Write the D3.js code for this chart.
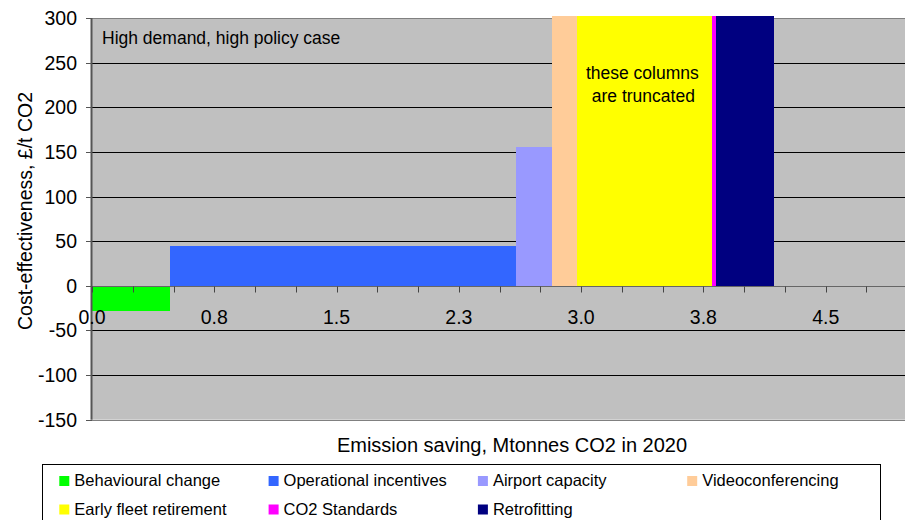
<!DOCTYPE html>
<html>
<head>
<meta charset="utf-8">
<script src="https://cdn.jsdelivr.net/npm/d3@7"></script>
<style>
  html, body { margin: 0; padding: 0; background: #fff; }
  svg { display: block; font-family: "Liberation Sans", Arial, sans-serif; }
</style>
</head>
<body>
<svg id="chart" width="905" height="520"></svg>
<script>
// Abatement measures, in order along the cumulative saving axis
const measures = ["Behavioural change", "Operational incentives", "Airport capacity",
  "Videoconferencing", "Early fleet retirement", "CO2 Standards", "Retrofitting"];
// Emission saving of each measure, Mt CO2 in 2020 (column widths)
const savings = [0.48, 2.12, 0.22, 0.155, 0.825, 0.025, 0.355];
// Cost-effectiveness, £/t CO2 (column heights); null = beyond the scale, drawn truncated
const costs = [-28, 45, 155, null, null, null, null];
const colors = ["#00FF00", "#3366FF", "#9999FF", "#FFCC99", "#FFFF00", "#FF00FF", "#000080"];

const yTicks = [-150, -100, -50, 0, 50, 100, 150, 200, 250, 300];
const xTickValues = [0, 0.75, 1.5, 2.25, 3.0, 3.75, 4.5];
const xTickLabels = ["0.0", "0.8", "1.5", "2.3", "3.0", "3.8", "4.5"];
const truncatedIndex = 4; // note sits on the early fleet retirement column

const svg = d3.select("#chart");
const plot = { left: 92, top: 18, bottom: 419.7, right: 948 };
const yCap = 302; // truncated columns stop just above the top of the scale

const x = d3.scaleLinear().domain([0, 5.25]).range([plot.left, plot.right]);
const y = d3.scaleLinear().domain([-150, 300]).range([plot.bottom, plot.top]);
const crisp = v => Math.round(v) + 0.5;

// plot background
svg.append("rect")
  .attr("x", plot.left).attr("y", plot.top)
  .attr("width", plot.right - plot.left).attr("height", plot.bottom - plot.top)
  .attr("fill", "#C0C0C0");

// horizontal gridlines
svg.append("g").selectAll("line")
  .data(yTicks.filter(v => v !== 0 && v !== 300 && v !== -150))
  .join("line")
  .attr("x1", plot.left).attr("x2", plot.right)
  .attr("y1", d => crisp(y(d))).attr("y2", d => crisp(y(d)))
  .attr("stroke", "#000").attr("stroke-width", 1);

// plot border top/bottom
[300, -150].forEach(v => {
  svg.append("line")
    .attr("x1", plot.left).attr("x2", plot.right)
    .attr("y1", crisp(y(v))).attr("y2", crisp(y(v)))
    .attr("stroke", "#808080").attr("stroke-width", 1);
});

// variable-width columns
const cum = d3.cumsum(savings);
const bars = measures.map((m, i) => ({
  name: m,
  x0: i === 0 ? 0 : cum[i - 1],
  x1: cum[i],
  cost: costs[i] === null ? yCap : costs[i],
  color: colors[i]
}));

svg.append("g").selectAll("rect")
  .data(bars)
  .join("rect")
  .attr("x", d => x(d.x0))
  .attr("width", d => x(d.x1) - x(d.x0))
  .attr("y", d => y(Math.max(0, d.cost)))
  .attr("height", d => Math.abs(y(d.cost) - y(0)))
  .attr("fill", d => d.color)
  .attr("shape-rendering", "crispEdges");

// y axis
const yAxis = svg.append("g");
yAxis.append("line")
  .attr("x1", crisp(plot.left) - 1).attr("x2", crisp(plot.left) - 1)
  .attr("y1", plot.top).attr("y2", plot.bottom)
  .attr("stroke", "#555").attr("stroke-width", 2);
yAxis.selectAll("line.tick")
  .data(yTicks)
  .join("line")
  .attr("class", "tick")
  .attr("x1", plot.left - 6).attr("x2", plot.left)
  .attr("y1", d => crisp(y(d))).attr("y2", d => crisp(y(d)))
  .attr("stroke", "#555");
yAxis.selectAll("text")
  .data(yTicks)
  .join("text")
  .attr("x", 77).attr("y", d => y(d))
  .attr("dy", "0.36em")
  .attr("text-anchor", "end")
  .attr("font-size", "19.5px")
  .attr("fill", "#000")
  .text(d => d);

// x axis along zero
const xAxis = svg.append("g");
xAxis.append("line")
  .attr("x1", plot.left).attr("x2", plot.right)
  .attr("y1", crisp(y(0))).attr("y2", crisp(y(0)))
  .attr("stroke", "#666").attr("stroke-width", 1);
xAxis.selectAll("line.tick")
  .data(d3.range(0, 22).map(i => i * 0.25))
  .join("line")
  .attr("class", "tick")
  .attr("x1", d => crisp(x(d))).attr("x2", d => crisp(x(d)))
  .attr("y1", crisp(y(0))).attr("y2", crisp(y(0)) + 6)
  .attr("stroke", "#444");
xAxis.selectAll("text")
  .data(xTickValues)
  .join("text")
  .attr("x", d => x(d))
  .attr("y", 323.5)
  .attr("text-anchor", "middle")
  .attr("font-size", "19.5px")
  .attr("fill", "#000")
  .text((d, i) => xTickLabels[i]);

// annotations
svg.append("text")
  .attr("x", 102).attr("y", 43.5)
  .attr("font-size", "17.5px").attr("fill", "#000")
  .text("High demand, high policy case");

const noteX = (x(bars[truncatedIndex].x0) + x(bars[truncatedIndex].x1)) / 2 - 2;
const note = svg.append("text")
  .attr("text-anchor", "middle")
  .attr("font-size", "17.5px").attr("fill", "#000");
note.append("tspan").attr("x", noteX).attr("y", 79).text("these columns");
note.append("tspan").attr("x", noteX + 1).attr("y", 101.5).text("are truncated");

// axis titles
svg.append("text")
  .attr("transform", "translate(32,211) rotate(-90)")
  .attr("text-anchor", "middle")
  .attr("font-size", "19.5px").attr("fill", "#000")
  .text("Cost-effectiveness, £/t CO2");

svg.append("text")
  .attr("x", 512).attr("y", 452)
  .attr("text-anchor", "middle")
  .attr("font-size", "20px").attr("fill", "#000")
  .text("Emission saving, Mtonnes CO2 in 2020");

// legend
const legend = svg.append("g");
legend.append("rect")
  .attr("x", 42.5).attr("y", 464.5)
  .attr("width", 838).attr("height", 80)
  .attr("fill", "#fff").attr("stroke", "#000").attr("stroke-width", 1);

const item = legend.selectAll("g.item")
  .data(measures)
  .join("g")
  .attr("class", "item")
  .attr("transform", (d, i) => `translate(${59.3 + (i % 4) * 209.3},${476 + Math.floor(i / 4) * 28.5})`);
item.append("rect")
  .attr("width", 10).attr("height", 10)
  .attr("fill", (d, i) => colors[i]);
item.append("text")
  .attr("x", 15).attr("y", 10)
  .attr("font-size", "16.5px").attr("fill", "#000")
  .text(d => d);
</script>
</body>
</html>
